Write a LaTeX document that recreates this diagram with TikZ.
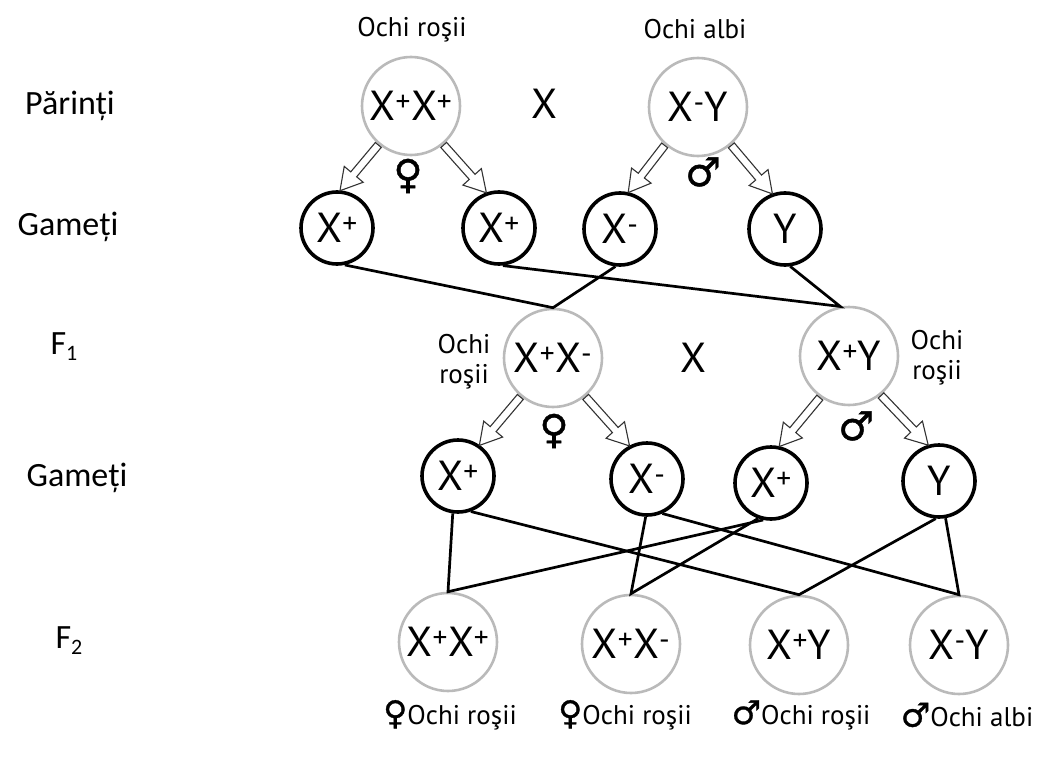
\documentclass[tikz,border=0pt]{standalone}
\usepackage{fontspec}
\setmainfont{PT Sans}
\newfontfamily\lblfont{Carlito}
\newfontfamily\symfont{DejaVu Sans}[FakeBold=1.0]
\usetikzlibrary{shapes.arrows,calc}
\newcommand\sps[1]{\textsuperscript{#1}}
\newcommand\harr[3]{\path let \p1=(#2), \p2=(#3), \n1={atan2(\y2-\y1,\x2-\x1)}, \n2={veclen(\x2-\x1,\y2-\y1)} in node[hollow, minimum height=\n2, rotate=\n1, anchor=tail] (#1) at (\p1) {};}
\tikzset{
  parent/.style={circle, draw=black!27, line width=2.6pt, minimum size=98pt, inner sep=0pt, font=\fontsize{42}{44}\selectfont},
  gamete/.style={circle, draw=black, line width=3.6pt, minimum size=72pt, inner sep=0pt, font=\fontsize{42}{44}\selectfont},
  hollow/.style={single arrow, draw=black!80, fill=white, line width=1.1pt, inner xsep=0pt, inner ysep=3.3pt, single arrow head extend=8.5pt, single arrow tip angle=60},
  link/.style={line width=2.7pt, line join=miter},
  eye/.style={font=\fontsize{27}{30}\selectfont, align=center},
  cross/.style={font=\fontsize{42}{44}\selectfont},
  side/.style={font=\lblfont\fontsize{34}{36}\selectfont, anchor=base},
  sex/.style={font=\symfont\fontsize{40}{42}\selectfont}
}
\newcommand\bsymb[1]{{\symfont\fontsize{33}{35}\selectfont #1}}
\begin{document}
\begin{tikzpicture}[x=1pt,y=-1pt]
\useasboundingbox (0,0) rectangle (1057,765);
% side labels
\node[side] (lp) at (70,115) {Părinți};
\node[side] (lg1) at (68,235) {Gameți};
\node[side] (lf1) at (64,354) {F{\fontsize{22}{24}\selectfont\raisebox{-6pt}{1}}};
\node[side] (lg2) at (77,486) {Gameți};
\node[side] (lf2) at (69,648) {F{\fontsize{22}{24}\selectfont\raisebox{-6pt}{2}}};
% parents
\node[parent] (p1) at (411,106) {X\sps{+}X\sps{+}};
\node[parent] (p2) at (698,107) {X\sps{-}Y};
\node[eye] (e1) at (412,30) {Ochi roşii};
\node[eye] (e2) at (695,29) {Ochi albi};
\node[cross] (c1) at (544,104) {X};
\node[sex] (s1) at (408,176) {♀};
\node[sex] (s2) at (703,172) {♂};
% gametes 1
\node[gamete] (g1a) at (337,228) {X\sps{+}};
\node[gamete] (g1b) at (499,228) {X\sps{+}};
\node[gamete] (g1c) at (620,229) {X\sps{-}};
\node[gamete] (g1d) at (785,229) {Y};
\harr{a1}{p1.230}{g1a.85}
\harr{a2}{p1.310}{g1b.110}
\harr{a3}{p2.229}{g1c.77}
\harr{a4}{p2.311}{g1d.110}
% F1
\node[parent] (f1a) at (553,358) {X\sps{+}X\sps{-}};
\node[parent] (f1b) at (849,356) {X\sps{+}Y};
\node[eye] (e3) at (464,362) {Ochi\\roşii};
\node[eye] (e4) at (937,358) {Ochi\\roşii};
\node[cross] (c2) at (693,358) {X};
\node[sex] (s3) at (554,431) {♀};
\node[sex] (s4) at (856,426) {♂};
\draw[link] (g1a.282) -- (f1a.north) -- (g1c.263);
\draw[link] (g1b.276) -- (f1b.100) -- (g1d.278);
% gametes 2
\node[gamete] (g2a) at (458,476) {X\sps{+}};
\node[gamete] (g2b) at (647,479) {X\sps{-}};
\node[gamete] (g2c) at (771,483) {X\sps{+}};
\node[gamete] (g2d) at (939,481) {Y};
\harr{a5}{f1a.230}{g2a.55}
\harr{a6}{f1a.310}{g2b.118}
\harr{a7}{f1b.235}{g2c.77}
\harr{a8}{f1b.309}{g2d.107}
% F2
\node[parent] (f2a) at (448,642) {X\sps{+}X\sps{+}};
\node[parent] (f2b) at (631,644) {X\sps{+}X\sps{-}};
\node[parent] (f2c) at (799,645) {X\sps{+}Y};
\node[parent] (f2d) at (959,645) {X\sps{-}Y};
\draw[link] (g2a.262) -- (f2a.north) -- (g2c.258);
\draw[link] (g2b.268) -- (f2b.north) -- (g2c.250);
\draw[link] (g2a.290) -- (f2c.north) -- (g2d.265);
\draw[link] (g2b.294) -- (f2d.north) -- (g2d.280);
\node[eye] (b1) at (450,715) {\bsymb{♀}Ochi roşii};
\node[eye] (b2) at (625,715) {\bsymb{♀}Ochi roşii};
\node[eye] (b3) at (801,715) {\bsymb{♂}Ochi roşii};
\node[eye] (b4) at (967,715) {\bsymb{♂}Ochi albi};
\end{tikzpicture}
\end{document}
